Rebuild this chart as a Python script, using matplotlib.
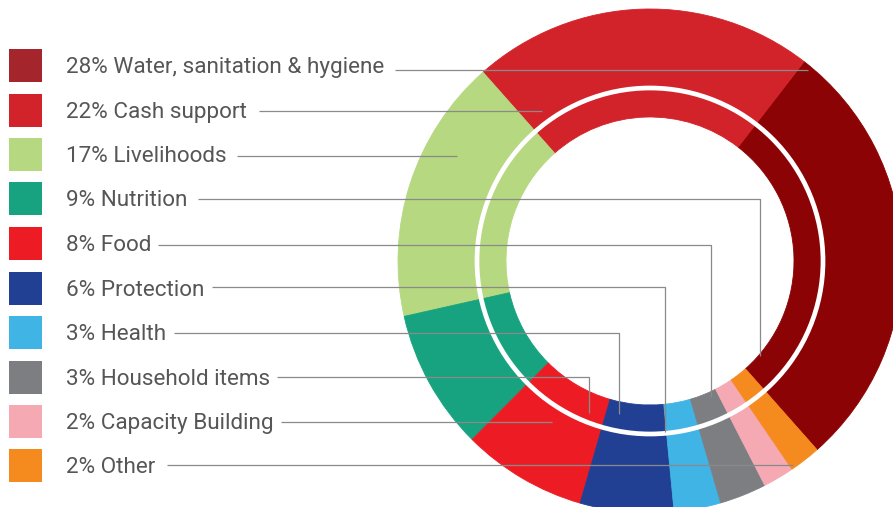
import matplotlib
matplotlib.use("Agg")
import matplotlib.pyplot as plt
from matplotlib.patches import Rectangle, Circle

# ---- data ----
categories = ["Water, sanitation & hygiene", "Cash support", "Livelihoods", "Nutrition",
              "Food", "Protection", "Health", "Household items", "Capacity Building", "Other"]
percentages = [28, 22, 17, 9, 8, 6, 3, 3, 2, 2]
ring_colors = ["#8B0304", "#D2232A", "#B5D880", "#17A37F", "#ED1C24",
               "#213F93", "#3FB4E5", "#7D7E82", "#F5A9B3", "#F58B1F"]
swatch_colors = ["#A4262C", "#D2232A", "#B5D880", "#17A37F", "#ED1C24",
                 "#213F93", "#3FB4E5", "#7D7E82", "#F5A9B3", "#F58B1F"]

W, H = 893, 507
fig = plt.figure(figsize=(W / 100, H / 100), dpi=100)
ax = fig.add_axes([0, 0, 1, 1])

def Y(y):  # image y (top-down) -> axes y
    return H - y

cx, cy = 650, 261
R_out, R_in = 252, 144

ax.pie(percentages, colors=ring_colors, startangle=-48.5, counterclock=True,
       radius=R_out, center=(cx, Y(cy)),
       wedgeprops=dict(width=R_out - R_in, linewidth=0.6, antialiased=True))
for w, c in zip(ax.patches, ring_colors):
    w.set_edgecolor(c)

ax.add_patch(Circle((cx, Y(cy)), 173, fill=False, edgecolor="white", linewidth=3.4, zorder=3))

# legend
row_y = [65, 110, 154, 198, 243, 288, 332, 377, 421, 465]
for i, (cat, pct) in enumerate(zip(categories, percentages)):
    y = row_y[i]
    ax.add_patch(Rectangle((9, Y(y + 16.5)), 33, 33, facecolor=swatch_colors[i],
                           edgecolor="none", zorder=4))
    ax.text(66, Y(y), f"{pct}% {cat}", fontsize=16.2, color="#565656",
            va="center_baseline", ha="left", family=["Roboto", "DejaVu Sans"], zorder=5)

# leader lines: (start_x, y, end_x, end_y)
leaders = [
    (395, 70, 808, None),
    (259, 111, 542, None),
    (237, 156, 457, None),
    (198, 199, 760, 356),
    (158, 245, 711, 397),
    (212, 287, 665, 432),
    (174, 333, 619, 414),
    (277, 377, 589, 413),
    (281, 422, 552, None),
    (167, 465, 793, None),
]
for x0, y0, x1, y1 in leaders:
    xs = [x0, x1]
    ys = [Y(y0), Y(y0)]
    if y1 is not None:
        xs.append(x1)
        ys.append(Y(y1))
    ax.plot(xs, ys, color="#8a8a8a", linewidth=0.9, zorder=6, solid_capstyle="butt")

ax.set_xlim(0, W)
ax.set_ylim(0, H)
ax.set_aspect("auto")
ax.axis("off")
fig.savefig("out.png", dpi=100)
